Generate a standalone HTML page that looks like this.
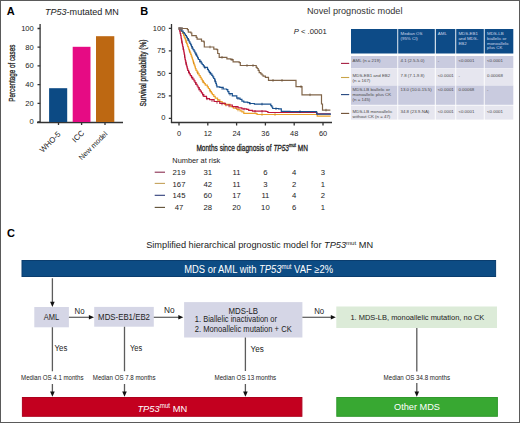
<!DOCTYPE html>
<html><head><meta charset="utf-8"><style>
html,body{margin:0;padding:0;background:#fff;}
body{width:520px;height:423px;overflow:hidden;}
svg{display:block;font-family:"Liberation Sans",sans-serif;}
</style></head><body>
<svg width="520" height="423" viewBox="0 0 520 423">
<rect x="0" y="0" width="520" height="423" fill="#fff"/>
<!-- frame -->
<rect x="0.5" y="0.5" width="519" height="422" fill="none" stroke="#5a5a5a" stroke-width="1"/>

<!-- ===== Panel A ===== -->
<text x="6.8" y="14.6" font-size="11" font-weight="bold" fill="#000">A</text>
<text x="45" y="15" font-size="9" fill="#222" textLength="73.8" lengthAdjust="spacingAndGlyphs"><tspan font-style="italic">TP53</tspan>-mutated MN</text>
<g stroke="#333" stroke-width="1.3" fill="none">
<line x1="40.1" y1="24" x2="40.1" y2="122.5"/>
<line x1="37" y1="122.5" x2="123" y2="122.5"/>
<path d="M37.5 28.5H40.2M37.5 47.2H40.2M37.5 65.9H40.2M37.5 84.6H40.2M37.5 103.3H40.2M37.5 122H40.2"/>
<path d="M58.5 122.5V125M81.6 122.5V125M105 122.5V125"/>
</g>
<g font-size="7.6" fill="#222" text-anchor="end">
<text x="33.8" y="30.9">100</text><text x="33.8" y="49.6">80</text><text x="33.8" y="68.3">60</text>
<text x="33.8" y="87">40</text><text x="33.8" y="105.7">20</text><text x="33.8" y="124.4">0</text>
</g>
<text transform="translate(14.8 73.2) rotate(-90)" font-size="9" fill="#222" stroke="#222" stroke-width="0.3" text-anchor="middle" textLength="57" lengthAdjust="spacingAndGlyphs">Percentage of cases</text>
<rect x="49.1" y="88.2" width="18.1" height="33.8" fill="#0c4a84"/>
<rect x="72.7" y="46.8" width="17.8" height="75.2" fill="#e60b84"/>
<rect x="96" y="36.2" width="18.3" height="85.8" fill="#bd6812"/>
<g font-size="8.2" fill="#222" text-anchor="end">
<text transform="translate(61.2 134.7) rotate(-45)" font-size="7.8">WHO-5</text>
<text transform="translate(84.8 133.4) rotate(-45)" font-size="7.8">ICC</text>
<text transform="translate(107.9 134.4) rotate(-45)" font-size="7.4">New model</text>
</g>

<!-- ===== Panel B ===== -->
<text x="140.2" y="14.9" font-size="11" font-weight="bold" fill="#000">B</text>
<text x="307" y="14.4" font-size="9" fill="#333" textLength="95.5" lengthAdjust="spacingAndGlyphs">Novel prognostic model</text>
<g stroke="#333" stroke-width="1.3" fill="none">
<line x1="171.5" y1="24" x2="171.5" y2="122.7"/>
<line x1="170.9" y1="122.5" x2="332" y2="122.5"/>
<path d="M168.8 28.3H171.5M168.8 50.8H171.5M168.8 73.3H171.5M168.8 95.8H171.5M168.8 118.3H171.5"/>
<path d="M179 122.7V125.4M207.8 122.7V125.4M236.6 122.7V125.4M265.4 122.7V125.4M294.2 122.7V125.4M323 122.7V125.4"/>
</g>
<g font-size="7.6" fill="#222" text-anchor="end">
<text x="165.5" y="30.9">100</text><text x="165.5" y="53.2">75</text><text x="165.5" y="75.6">50</text>
<text x="165.5" y="98">25</text><text x="165.5" y="120.4">0</text>
</g>
<g font-size="7.4" fill="#222" text-anchor="middle">
<text x="179" y="135.7">0</text><text x="207.8" y="135.8">12</text><text x="236.6" y="135.8">24</text>
<text x="265.4" y="135.8">36</text><text x="294.2" y="135.8">48</text><text x="323" y="135.8">60</text>
</g>
<text x="196.4" y="150.6" font-size="8.8" fill="#222" stroke="#222" stroke-width="0.3" textLength="111.5" lengthAdjust="spacingAndGlyphs">Months since diagnosis of <tspan font-style="italic">TP53</tspan><tspan font-size="5.6" dy="-3.2">mut</tspan><tspan dy="3.2"> MN</tspan></text>
<text transform="translate(145.6 73) rotate(-90)" font-size="8.5" fill="#222" stroke="#222" stroke-width="0.3" text-anchor="middle" textLength="67" lengthAdjust="spacingAndGlyphs">Survival probability (%)</text>
<text x="293.7" y="33.8" font-size="7.5" fill="#222" textLength="33" lengthAdjust="spacingAndGlyphs"><tspan font-style="italic">P</tspan> &lt; .0001</text>

<g fill="none" stroke-width="1.2" stroke-linejoin="miter">
<path d="M179.4 28.5L187.4 28.5L187.4 29.6L188.3 29.6L188.3 32.1L190.9 32.1L190.9 33.0L191.8 33.0L191.8 35.6L196.2 35.6L196.2 37.4L197.1 37.4L197.1 39.2L201.5 39.2L201.5 41.2L203.8 41.2L203.8 41.9L204.3 41.9L204.3 47.0L213.8 47.0L213.8 49.2L216.9 49.2L216.9 49.6L217.7 49.6L217.7 53.5L219.2 53.5L219.2 57.3L226.9 57.3L226.9 58.8L230.8 58.8L230.8 59.6L233.1 59.6L233.1 61.9L239.2 61.9L239.2 62.7L240.3 62.7L240.3 65.5L256.2 65.5L256.2 67.3L257.2 67.3L257.2 68.5L258.2 68.5L258.2 70.4L259.2 70.4L259.2 72.7L260.8 72.7L260.8 73.8L262.0 73.8L262.0 75.0L263.1 75.0L263.1 76.2L265.4 76.2L265.4 77.3L268.5 77.3L268.5 80.4L296.0 80.4L296.0 86.6L302.0 86.6L302.0 94.8L321.5 94.8L321.5 104.0L322.5 104.0L322.5 110.1L330.4 110.1" stroke="#806448"/>
<path d="M179.2 28.4L180.3 28.4L180.3 29.9L181.5 29.9L181.5 31.5L182.6 31.5L182.6 33.5L183.6 33.5L183.6 35.5L184.2 35.5L184.2 37.1L184.9 37.1L184.9 38.6L185.5 38.6L185.5 40.2L186.1 40.2L186.1 41.8L186.6 41.8L186.6 43.3L187.2 43.3L187.2 44.9L187.7 44.9L187.7 46.5L188.3 46.5L188.3 48.0L188.8 48.0L188.8 49.6L189.4 49.6L189.4 51.2L190.1 51.2L190.1 52.8L190.7 52.8L190.7 54.4L191.3 54.4L191.3 56.1L191.9 56.1L191.9 57.8L192.5 57.8L192.5 59.5L192.9 59.5L192.9 60.9L193.4 60.9L193.4 62.4L193.9 62.4L193.9 63.8L194.3 63.8L194.3 65.2L194.9 65.2L194.9 66.9L195.4 66.9L195.4 68.7L196.0 68.7L196.0 70.4L197.0 70.4L197.0 72.1L198.1 72.1L198.1 73.9L199.1 73.9L199.1 75.6L200.2 75.6L200.2 77.3L201.2 77.3L201.2 79.1L202.3 79.1L202.3 80.8L203.3 80.8L203.3 82.3L204.3 82.3L204.3 83.7L205.3 83.7L205.3 85.2L207.3 85.2L207.3 86.8L208.4 86.8L208.4 88.5L209.5 88.5L209.5 90.2L210.5 90.2L210.5 91.7L211.4 91.7L211.4 93.2L212.4 93.2L212.4 94.7L213.8 94.7L213.8 96.4L215.2 96.4L215.2 98.1L217.5 98.1L217.5 99.8L219.8 99.8L219.8 101.5L222.1 101.5L222.1 103.0L224.3 103.0L224.3 104.4L230.0 104.4L230.0 106.7L233.4 106.7L233.4 108.1L236.8 108.1L236.8 109.5L240.0 109.5L240.0 110.9L241.9 110.9L241.9 111.8L243.8 111.8L243.8 113.3L256.3 113.3L256.3 113.8L257.3 113.8L257.3 114.5L316.9 114.5L316.9 114.5L317.2 114.5L317.2 116.2L330.6 116.2L330.6 116.2" stroke="#eda22a"/>
<path d="M179.2 28.4L179.5 28.4L179.5 30.0L179.8 30.0L179.8 31.7L180.2 31.7L180.2 33.6L180.7 33.6L180.7 35.5L181.0 35.5L181.0 37.1L181.2 37.1L181.2 38.6L181.5 38.6L181.5 40.2L181.8 40.2L181.8 41.8L182.1 41.8L182.1 43.3L182.4 43.3L182.4 44.9L182.7 44.9L182.7 46.5L183.1 46.5L183.1 48.0L183.4 48.0L183.4 49.6L183.7 49.6L183.7 51.2L184.0 51.2L184.0 52.8L184.3 52.8L184.3 54.4L184.6 54.4L184.6 56.1L184.8 56.1L184.8 57.8L185.1 57.8L185.1 59.5L185.4 59.5L185.4 60.9L185.8 60.9L185.8 62.4L186.1 62.4L186.1 63.8L186.4 63.8L186.4 65.2L186.8 65.2L186.8 66.9L187.3 66.9L187.3 68.7L187.7 68.7L187.7 70.4L188.6 70.4L188.6 72.1L189.4 72.1L189.4 73.9L190.3 73.9L190.3 75.6L191.5 75.6L191.5 77.3L192.8 77.3L192.8 79.1L194.0 79.1L194.0 80.8L195.0 80.8L195.0 82.5L196.1 82.5L196.1 84.3L197.1 84.3L197.1 86.0L198.1 86.0L198.1 87.7L199.2 87.7L199.2 89.5L200.2 89.5L200.2 91.2L201.4 91.2L201.4 92.9L202.6 92.9L202.6 94.7L203.8 94.7L203.8 96.4L206.5 96.4L206.5 98.6L209.5 98.6L209.5 99.6L214.1 99.6L214.1 101.5L219.8 101.5L219.8 103.3L225.5 103.3L225.5 105.0L232.3 105.0L232.3 106.7L238.0 106.7L238.0 107.8L241.9 107.8L241.9 108.9L246.7 108.9L246.7 109.4L248.7 109.4L248.7 110.4L252.5 110.4L252.5 111.2L266.0 111.2L266.0 111.5L267.9 111.5L267.9 112.5L295.6 112.5L295.6 112.5L316.7 112.5L316.7 112.8L316.9 112.8L316.9 113.8L330.6 113.8L330.6 113.8" stroke="#c0153c"/>
<path d="M179.2 28.4L180.5 28.4L180.5 29.8L181.8 29.8L181.8 31.2L183.1 31.2L183.1 32.6L184.3 32.6L184.3 34.0L185.5 34.0L185.5 35.5L186.4 35.5L186.4 37.1L187.4 37.1L187.4 38.6L188.3 38.6L188.3 40.2L189.1 40.2L189.1 41.8L189.9 41.8L189.9 43.3L190.7 43.3L190.7 44.9L191.5 44.9L191.5 46.5L192.2 46.5L192.2 48.0L193.0 48.0L193.0 49.6L194.0 49.6L194.0 51.2L194.9 51.2L194.9 52.8L195.9 52.8L195.9 54.4L196.7 54.4L196.7 56.1L197.6 56.1L197.6 57.8L198.4 57.8L198.4 59.5L199.8 59.5L199.8 61.3L201.2 61.3L201.2 63.1L202.2 63.1L202.2 64.5L203.3 64.5L203.3 65.9L204.3 65.9L204.3 67.3L207.5 67.3L207.5 69.4L208.4 69.4L208.4 70.8L209.3 70.8L209.3 72.3L210.6 72.3L210.6 73.8L211.8 73.8L211.8 75.4L212.8 75.4L212.8 76.9L213.7 76.9L213.7 78.5L214.7 78.5L214.7 80.0L215.2 80.0L215.2 81.7L215.8 81.7L215.8 83.4L216.4 83.4L216.4 85.1L216.9 85.1L216.9 86.8L219.8 86.8L219.8 87.3L223.2 87.3L223.2 89.0L226.6 89.0L226.6 89.6L227.8 89.6L227.8 91.6L228.9 91.6L228.9 93.6L232.3 93.6L232.3 95.9L236.8 95.9L236.8 98.1L240.0 98.1L240.0 99.3L241.9 99.3L241.9 101.2L243.8 101.2L243.8 102.2L247.7 102.2L247.7 102.7L249.6 102.7L249.6 103.5L254.4 103.5L254.4 104.1L268.8 104.1L268.8 104.1L270.8 104.1L270.8 105.6L271.8 105.6L271.8 107.0L272.7 107.0L272.7 108.5L278.5 108.5L278.5 108.9L281.3 108.9L281.3 111.3L290.0 111.3L290.0 111.6L316.3 111.6L316.3 111.6L316.6 111.6L316.6 112.9L316.9 112.9L316.9 114.2L331.0 114.2L331.0 114.2" stroke="#1a5290"/>
<path d="M181.8 40.5v2.6M183.2 47.4v2.6M184.6 55.0v2.6M186.0 62.1v2.6M188.5 70.7v2.6M192.0 76.7v2.6M195.5 82.0v2.6M199.0 87.9v2.6M203.0 93.9v2.6M207.0 97.5v2.6M212.0 99.3v2.6M217.0 101.1v2.6M222.0 102.7v2.6M229.0 104.6v2.6M236.0 106.1v2.6M244.0 107.8v2.6M255.0 110.0v2.6M262.0 110.1v2.6" stroke="#a01030" stroke-width="0.8"/><path d="M186.0 40.3v2.6M189.5 50.1v2.6M193.5 61.4v2.6M197.5 71.6v2.6M203.0 80.5v2.6M210.0 89.7v2.6M218.0 98.9v2.6M226.0 103.8v2.6M238.0 108.7v2.6M262.0 113.2v2.6M275.0 113.2v2.6" stroke="#d08a20" stroke-width="0.8"/><path d="M188.0 38.4v2.6M192.0 46.3v2.6M196.0 53.3v2.6M200.0 60.3v2.6M205.0 66.5v2.6M210.0 71.9v2.6M215.0 79.6v2.6M222.0 87.1v2.6M230.0 93.0v2.6M238.0 97.2v2.6M250.0 102.2v2.6M262.0 102.8v2.6M276.0 107.4v2.6M300.0 110.3v2.6" stroke="#173f75" stroke-width="0.8"/><path d="M210.0 45.7v2.6M222.0 56.0v2.6M232.0 58.3v2.6M247.0 64.2v2.6M253.0 64.2v2.6M273.0 79.1v2.6M282.0 79.1v2.6M301.0 85.3v2.6M310.0 93.5v2.6M326.0 108.8v2.6" stroke="#6a5038" stroke-width="0.8"/>
<path d="M178.2 27.2h4.6v2.6h-4.6z" fill="#7a6a62" stroke="none"/>
</g>

<!-- table -->
<g>
<rect x="351" y="29" width="46.3" height="24.5" fill="#0d4b87"/>
<rect x="398.2" y="29" width="36.6" height="24.5" fill="#0d4b87"/>
<rect x="435.8" y="29" width="19.5" height="24.5" fill="#0d4b87"/>
<rect x="456.2" y="29" width="27.6" height="24.5" fill="#0d4b87"/>
<rect x="484.7" y="29" width="28.6" height="24.5" fill="#0d4b87"/>
<g fill="#c9cbdf">
<rect x="351" y="56" width="46.3" height="12.3"/><rect x="398.2" y="56" width="36.6" height="12.3"/><rect x="435.8" y="56" width="19.5" height="12.3"/><rect x="456.2" y="56" width="27.6" height="12.3"/><rect x="484.7" y="56" width="28.6" height="12.3"/>
<rect x="351" y="85.4" width="46.3" height="19.4"/><rect x="398.2" y="85.4" width="36.6" height="19.4"/><rect x="435.8" y="85.4" width="19.5" height="19.4"/><rect x="456.2" y="85.4" width="27.6" height="19.4"/><rect x="484.7" y="85.4" width="28.6" height="19.4"/>
</g>
<g fill="#e6e6ef">
<rect x="351" y="68.6" width="46.3" height="16.8"/><rect x="398.2" y="68.6" width="36.6" height="16.8"/><rect x="435.8" y="68.6" width="19.5" height="16.8"/><rect x="456.2" y="68.6" width="27.6" height="16.8"/><rect x="484.7" y="68.6" width="28.6" height="16.8"/>
<rect x="351" y="105.6" width="46.3" height="14"/><rect x="398.2" y="105.6" width="36.6" height="14"/><rect x="435.8" y="105.6" width="19.5" height="14"/><rect x="456.2" y="105.6" width="27.6" height="14"/><rect x="484.7" y="105.6" width="28.6" height="14"/>
</g>
<g font-size="4.4" fill="#cdd7ea">
<text x="400.5" y="35">Median OS</text><text x="400.5" y="39.8">(95% CI)</text>
<text x="437.8" y="35">AML</text>
<text x="458.4" y="35">MDS-EB1</text><text x="458.4" y="39.8">and MDS-</text><text x="458.4" y="44.6">EB2</text>
<text x="487" y="35">MDS-LB</text><text x="487" y="39.8">biallelic or</text><text x="487" y="44.6">monoallelic</text><text x="487" y="49.4">plus CK</text>
</g>
<g font-size="4.4" fill="#4a4a4a">
<text x="352.6" y="61.5">AML (n = 219)</text>
<text x="352.6" y="76.5">MDS-EB1 and EB2</text><text x="352.6" y="81.5">(n = 167)</text>
<text x="352.6" y="91.2">MDS-LB biallelic or</text><text x="352.6" y="96.1">monoallelic plus CK</text><text x="352.6" y="101">(n = 145)</text>
<text x="352.6" y="112.6">MDS-LB monoallelic</text><text x="352.6" y="117.6">without CK (n = 47)</text>
<text x="400.5" y="61.5">4.1 (2.5-5.0)</text>
<text x="400.5" y="76.5">7.8 (7.1-9.8)</text>
<text x="400.5" y="91.2">13.0 (10.0-15.5)</text>
<text x="400.5" y="112.6">34.8 (23.9-NA)</text>
<text x="437.8" y="61.5">-</text>
<text x="437.8" y="76.5">&lt;0.0001</text><text x="437.8" y="91.2">&lt;0.0001</text><text x="437.8" y="112.6">&lt;0.0001</text>
<text x="458.4" y="61.5">&lt;0.0001</text><text x="458.4" y="76.5">-</text><text x="458.4" y="91.2">0.00068</text><text x="458.4" y="112.6">&lt;0.0001</text>
<text x="487" y="61.5">&lt;0.0001</text><text x="487" y="76.5">0.00068</text><text x="487" y="91.2">-</text><text x="487" y="112.6">&lt;0.0001</text>
</g>
<g stroke-width="1.1">
<line x1="341" y1="63.4" x2="349.2" y2="63.4" stroke="#a51d40"/>
<line x1="341" y1="77.5" x2="349.2" y2="77.5" stroke="#c9a448"/>
<line x1="341" y1="94.6" x2="349.2" y2="94.6" stroke="#22457e"/>
<line x1="341" y1="113.4" x2="349.2" y2="113.4" stroke="#6e4e32"/>
</g>
</g>

<!-- number at risk -->
<text x="172.3" y="162.7" font-size="7.4" fill="#222" textLength="48" lengthAdjust="spacingAndGlyphs">Number at risk</text>
<g stroke-width="1.1">
<line x1="154.7" y1="172.2" x2="165" y2="172.2" stroke="#8a2e50"/>
<line x1="154.7" y1="183.4" x2="165" y2="183.4" stroke="#c4a25a"/>
<line x1="154.7" y1="195.3" x2="165" y2="195.3" stroke="#2c3c78"/>
<line x1="154.7" y1="207.4" x2="165" y2="207.4" stroke="#5e4e34"/>
</g>
<g font-size="7.7" fill="#222" text-anchor="middle">
<text x="179" y="174.6">219</text><text x="207.8" y="175">31</text><text x="236.6" y="175">11</text><text x="265.4" y="175">6</text><text x="294.2" y="175">4</text><text x="323" y="175">3</text>
<text x="179" y="186.6">167</text><text x="207.8" y="186.6">42</text><text x="236.6" y="186.6">11</text><text x="265.4" y="186.6">3</text><text x="294.2" y="186.6">2</text><text x="323" y="186.6">1</text>
<text x="179" y="198.2">145</text><text x="207.8" y="198.2">60</text><text x="236.6" y="198.2">17</text><text x="265.4" y="198.2">11</text><text x="294.2" y="198.2">4</text><text x="323" y="198.2">2</text>
<text x="179" y="209.9">47</text><text x="207.8" y="209.9">28</text><text x="236.6" y="209.9">20</text><text x="265.4" y="209.9">10</text><text x="294.2" y="209.9">6</text><text x="323" y="209.9">1</text>
</g>

<!-- ===== Panel C ===== -->
<text x="7.1" y="236.5" font-size="11" font-weight="bold" fill="#000">C</text>
<text x="146.2" y="248.4" font-size="9" fill="#222" textLength="226.9" lengthAdjust="spacingAndGlyphs">Simplified hierarchical prognostic model for <tspan font-style="italic">TP53</tspan><tspan font-size="6" dy="-3">mut</tspan><tspan dy="3"> MN</tspan></text>
<rect x="22" y="260.5" width="473.6" height="16" fill="#0d4c84" stroke="#0a3d6e" stroke-width="1"/>
<text x="184.2" y="272.5" font-size="10" fill="#fff" textLength="148.8" lengthAdjust="spacingAndGlyphs">MDS or AML with <tspan font-style="italic">TP53</tspan><tspan font-size="6.4" dy="-3.2">mut</tspan><tspan dy="3.2"> VAF ≥2%</tspan></text>

<g fill="#d5d6e6">
<rect x="34.3" y="307" width="34.6" height="20.3"/>
<rect x="94.2" y="306.9" width="59.6" height="19.8"/>
<rect x="184.1" y="302.1" width="118.3" height="35.4"/>
</g>
<rect x="336.3" y="306.5" width="160.7" height="21.5" fill="#dcebd8"/>
<g font-size="8.3" fill="#222">
<text x="43.8" y="319.9" textLength="15.4" lengthAdjust="spacingAndGlyphs">AML</text>
<text x="98.1" y="320" textLength="51.9" lengthAdjust="spacingAndGlyphs">MDS-EB1/EB2</text>
<text x="228.5" y="313.6" textLength="29.6" lengthAdjust="spacingAndGlyphs">MDS-LB</text>
<text x="194.8" y="321.6" textLength="82.2" lengthAdjust="spacingAndGlyphs">1. Biallelic inactivation or</text>
<text x="194.8" y="331.6" textLength="96.9" lengthAdjust="spacingAndGlyphs">2. Monoallelic mutation + CK</text>
<text x="350.4" y="320" font-size="7.9" textLength="133.9" lengthAdjust="spacingAndGlyphs">1. MDS-LB, monoallelic mutation, no CK</text>
<text x="74.6" y="313.5" textLength="10" lengthAdjust="spacingAndGlyphs">No</text>
<text x="164" y="313.3" textLength="10.6" lengthAdjust="spacingAndGlyphs">No</text>
<text x="314.2" y="313.8" textLength="10" lengthAdjust="spacingAndGlyphs">No</text>
<text x="54.6" y="351.2" textLength="12.7" lengthAdjust="spacingAndGlyphs">Yes</text>
<text x="130" y="351.2" textLength="12.1" lengthAdjust="spacingAndGlyphs">Yes</text>
<text x="250.5" y="351.6" textLength="13.2" lengthAdjust="spacingAndGlyphs">Yes</text>
</g>
<g font-size="6.3" fill="#222">
<text x="21.1" y="380.1" textLength="62.4" lengthAdjust="spacingAndGlyphs">Median OS 4.1 months</text>
<text x="92.8" y="380.1" textLength="62.8" lengthAdjust="spacingAndGlyphs">Median OS 7.8 months</text>
<text x="214.5" y="380.1" textLength="61.7" lengthAdjust="spacingAndGlyphs">Median OS 13 months</text>
<text x="383.6" y="380.1" textLength="66.4" lengthAdjust="spacingAndGlyphs">Median OS 34.8 months</text>
</g>
<g stroke="#5c5c5c" stroke-width="1.3" fill="none">
<path d="M52.4 278.3V303M52.4 327.3V371.2M124.5 326.7V371.2M245.4 337.5V371M416.8 328V371.5"/>
<path d="M52.4 384V392M124.5 384V392M245.4 384V392M416.8 383V392"/>
</g>
<g stroke="#3a3a3a" stroke-width="1.1" fill="none">
<path d="M68.9 317.2H89.5M153.8 317.2H179.5M302.4 317.2H331.5"/>
</g>
<g fill="#111">
<path d="M50.1 301.8L54.7 301.8L52.4 306.9Z"/>
<path d="M50.1 391.6L54.7 391.6L52.4 396.7Z"/>
<path d="M122.2 391.6L126.8 391.6L124.5 396.7Z"/>
<path d="M243.1 391.6L247.7 391.6L245.4 396.7Z"/>
<path d="M414.5 391.6L419.1 391.6L416.8 396.7Z"/>
<path d="M88.9 315L88.9 319.4L94 317.2Z"/>
<path d="M178.3 315L178.3 319.4L183.3 317.2Z"/>
<path d="M330.8 315L330.8 319.4L335.8 317.2Z"/>
</g>
<rect x="22.4" y="397.5" width="279.5" height="18.8" fill="#c3001f" stroke="#ad001d" stroke-width="1"/>
<rect x="336.8" y="397.5" width="160.6" height="18.8" fill="#38a832" stroke="#31992d" stroke-width="1"/>
<text x="137.4" y="411.5" font-size="9.7" fill="#fff" textLength="49.8" lengthAdjust="spacingAndGlyphs"><tspan font-style="italic">TP53</tspan><tspan font-size="6.5" dy="-3.5">mut</tspan><tspan dy="3.5"> MN</tspan></text>
<text x="394" y="410.3" font-size="9.4" fill="#fff" textLength="46" lengthAdjust="spacingAndGlyphs">Other MDS</text>
</svg>
</body></html>
